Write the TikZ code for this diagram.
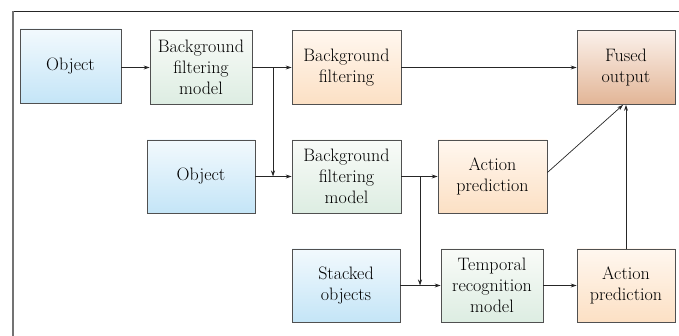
\documentclass[tikz,border=0pt]{standalone}
\usepackage{fontspec}
\usetikzlibrary{arrows.meta,calc}
\definecolor{blueTop}{HTML}{F2F9FD}
\definecolor{blueBot}{HTML}{C4E5F7}
\definecolor{greenTop}{HTML}{F9FBF8}
\definecolor{greenBot}{HTML}{DDEDE2}
\definecolor{orangeTop}{HTML}{FFF7EF}
\definecolor{orangeBot}{HTML}{FCE0C4}
\definecolor{fusedTop}{HTML}{FBF1EB}
\definecolor{fusedBot}{HTML}{E2B596}
\definecolor{edge}{HTML}{505050}
\tikzset{
  box/.style={draw=edge, line width=0.8pt, align=center, inner sep=2pt,
    font=\fontsize{18}{21}\selectfont, text=black},
  inbox/.style={box, top color=blueTop, bottom color=blueBot},
  modelbox/.style={box, top color=greenTop, bottom color=greenBot},
  outbox/.style={box, top color=orangeTop, bottom color=orangeBot},
  fusedbox/.style={box, top color=fusedTop, bottom color=fusedBot},
  row1/.style={minimum height=74pt},
  row2/.style={minimum height=73pt},
  flow/.style={draw=black!85, line width=0.7pt, -{Stealth[length=6pt,width=4pt]}}
}
\begin{document}
\begin{tikzpicture}[x=1pt,y=-1pt]
  \useasboundingbox (0,0) rectangle (679,336);
  % frame lines
  \draw[black!85, line width=0.9pt] (13,11) -- (679,11);
  \draw[black!55, line width=1.3pt] (13,11) -- (13,336);

  % first row
  \node[inbox, row1, minimum width=101pt] (obj1) at (70.5,66) {Object};
  \node[modelbox, row1, minimum width=102pt] (bfm1) at (201,67.5) {Background\\filtering\\model};
  \node[outbox, row1, minimum width=109pt] (bgf) at (346.5,67.5) {Background\\filtering};
  \node[fusedbox, row1, minimum width=98pt] (fused) at (626,67.5) {Fused\\output};

  % second row
  \node[inbox, row2, minimum width=108pt] (obj2) at (201,176.5) {Object};
  \node[modelbox, row2, minimum width=109pt] (bfm2) at (346.5,176.5) {Background\\filtering\\model};
  \node[outbox, row2, minimum width=109pt] (act1) at (492.5,176.5) {Action\\prediction};

  % third row
  \node[inbox, row2, minimum width=108pt] (stk) at (346,285.5) {Stacked\\objects};
  \node[modelbox, row2, minimum width=102pt] (tmp) at (492,285.5) {Temporal\\recognition\\model};
  \node[outbox, row2, minimum width=98pt] (act2) at (626,285.5) {Action\\prediction};

  % branch points
  \coordinate (b1) at (273,67.5);
  \coordinate (b1end) at (273,176.5);
  \coordinate (b2) at (420,176.5);
  \coordinate (b2end) at (420,285.5);

  % connectors
  \draw[flow] (obj1.east |- b1) -- (bfm1.west |- b1);
  \draw[flow] (bfm1.east) -- (bgf.west);
  \draw[flow] (b1) -- (b1end);
  \draw[flow] (bgf.east) -- (fused.west);
  \draw[flow] (obj2.east) -- (bfm2.west);
  \draw[flow] (bfm2.east) -- (act1.west);
  \draw[flow] (b2) -- (b2end);
  \draw[flow] (stk.east) -- (tmp.west);
  \draw[flow] (tmp.east) -- (act2.west);
  \draw[flow] ([yshift=4pt]act1.east) -- ([xshift=-3pt]fused.south);
  \draw[flow] (act2.north) -- (fused.south);
\end{tikzpicture}
\end{document}
